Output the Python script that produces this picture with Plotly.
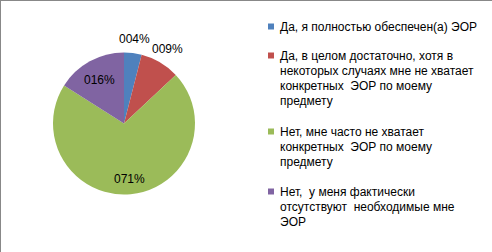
import math
import plotly.graph_objects as go

# ---- data ----
categories = [
    "Да, я полностью обеспечен(а) ЭОР",
    "Да, в целом достаточно, хотя в некоторых случаях мне не хватает конкретных  ЭОР по моему предмету",
    "Нет, мне часто не хватает конкретных  ЭОР по моему предмету",
    "Нет,  у меня фактически отсутствуют  необходимые мне ЭОР",
]
legend_lines = [
    ["Да, я полностью обеспечен(а) ЭОР"],
    ["Да, в целом достаточно, хотя в", "некоторых случаях мне не хватает",
     "конкретных  ЭОР по моему", "предмету"],
    ["Нет, мне часто не хватает", "конкретных  ЭОР по моему", "предмету"],
    ["Нет,  у меня фактически", "отсутствуют  необходимые мне", "ЭОР"],
]
values = [4, 9, 71, 16]

# ---- style ----
colors = ["#4F81BD", "#C0504D", "#9BBB59", "#8064A2"]
FONT = "Liberation Sans"
W, H = 492, 252
cx, cy, r = 124, 123.5, 71
label_radius = [85, 86, 56, 50]          # px distance of each data label from centre
legend_first_line = [27, 56, 132, 192]   # px y of first line of each legend entry
line_step = 15
sq_x0, sq_size, text_x = 268, 6, 278


def px_x(v):
    return v / W


def px_y(v):
    return 1 - v / H


fig = go.Figure(go.Pie(
    labels=categories,
    values=values,
    sort=False,
    direction="clockwise",
    rotation=0,
    marker=dict(colors=colors, line=dict(width=0)),
    textinfo="none",
    hoverinfo="label+percent",
    showlegend=False,
    domain=dict(x=[px_x(cx - r), px_x(cx + r)], y=[px_y(cy + r), px_y(cy - r)]),
))

annotations = []
shapes = []

# data labels, positioned at the mid-angle of each slice
total = sum(values)
cum = 0
for v, rad in zip(values, label_radius):
    mid = (cum + v / 2) / total * 2 * math.pi
    cum += v
    lx = cx + rad * math.sin(mid)
    ly = cy - rad * math.cos(mid)
    annotations.append(dict(
        x=px_x(lx), y=px_y(ly), xref="paper", yref="paper",
        text=f"{v:03d}%", showarrow=False, xanchor="center", yanchor="middle",
        font=dict(family=FONT, size=12, color="#000000"),
    ))

# legend
for color, lines, y0 in zip(colors, legend_lines, legend_first_line):
    shapes.append(dict(
        type="rect", xref="paper", yref="paper",
        x0=px_x(sq_x0), x1=px_x(sq_x0 + sq_size),
        y0=px_y(y0 - 3.5), y1=px_y(y0 - 3.5 + sq_size),
        fillcolor=color, line=dict(width=0),
    ))
    for i, line in enumerate(lines):
        annotations.append(dict(
            x=px_x(text_x), y=px_y(y0 + i * line_step), xref="paper", yref="paper",
            text=line, showarrow=False, xanchor="left", yanchor="middle",
            font=dict(family=FONT, size=12, color="#000000"),
        ))

# chart-area border (top and left edges visible)
shapes.append(dict(type="line", xref="paper", yref="paper", x0=px_x(0.5), x1=px_x(0.5), y0=0, y1=1,
                   line=dict(color="#888888", width=1)))
shapes.append(dict(type="line", xref="paper", yref="paper", x0=0, x1=1, y0=px_y(0.5), y1=px_y(0.5),
                   line=dict(color="#888888", width=1)))

fig.update_layout(
    width=W, height=H,
    margin=dict(l=0, r=0, t=0, b=0),
    paper_bgcolor="#FFFFFF",
    plot_bgcolor="#FFFFFF",
    font=dict(family=FONT, size=12, color="#000000"),
    showlegend=False,
    annotations=annotations,
    shapes=shapes,
)

fig.write_html(
    "out.html",
    config={"displayModeBar": False},
    post_script="document.body.style.margin='0';document.body.style.overflow='hidden';",
)
